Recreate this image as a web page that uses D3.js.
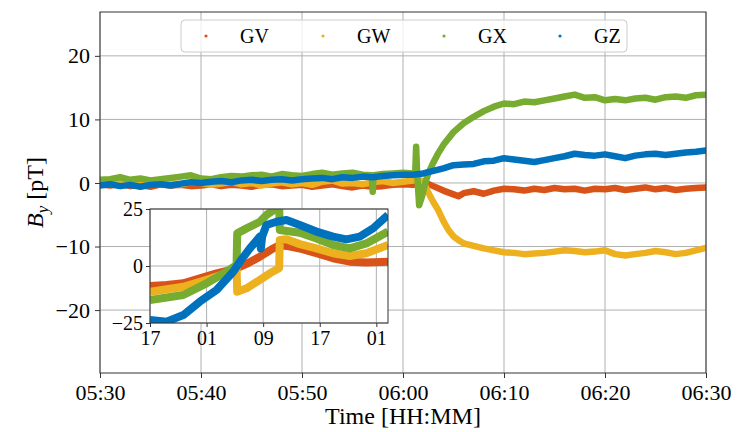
<!DOCTYPE html>
<html><head><meta charset="utf-8">
<script src="https://cdn.jsdelivr.net/npm/d3@7"></script>
<style>body{margin:0;background:#fff} svg{display:block} text{font-family:"Liberation Serif",serif;fill:#000}</style>
</head><body><svg id="c" width="753" height="432"></svg>
<script>
// ---------- data ----------
const seriesNames = ["GV","GW","GX","GZ"];
const seriesColors = ["#D95319","#EDB120","#77AC30","#0072BD"];
const xTickMinutes = [0,10,20,30,40,50,60];
const xTickLabels = ["05:30","05:40","05:50","06:00","06:10","06:20","06:30"];
const yTicks = [-20,-10,0,10,20];
const yTickLabels = ["\u221220","\u221210","0","10","20"];

// main plot: minutes after 05:30
const preT = [0,1,2,3,4,5,6,7,8,9,10,11,12,13,14,15,16,17,18,19,20,21,22,23,24,25,26,27,28,29,30];
const gvPre = [-0.2,-0.4,-0.1,-0.5,-0.3,-0.6,-0.2,-0.4,-0.3,-0.5,-0.4,-0.2,-0.5,-0.3,-0.4,-0.6,-0.3,-0.2,-0.5,-0.4,-0.3,-0.6,-0.4,-0.2,-0.5,-0.7,-0.4,-0.6,-0.5,-0.3,-0.2];
const gwPre = [0.3,0.0,0.4,-0.2,0.1,0.2,-0.3,0.0,-0.2,0.1,0.0,-0.3,-0.1,0.2,-0.2,0.0,-0.4,-0.1,0.1,-0.2,0.0,-0.3,0.2,0.4,-0.1,0.0,-0.2,0.1,0.3,0.0,0.2];
const gxPre = [0.5,0.6,0.9,0.5,0.7,0.4,0.6,0.8,1.0,1.2,0.7,0.6,0.9,1.1,1.0,1.2,1.3,1.0,1.4,1.2,1.1,1.4,1.6,1.3,1.5,1.6,1.3,0.9,1.4,1.5,1.6];
const gzPre = [-0.4,-0.2,-0.5,-0.3,-0.6,-0.3,-0.2,-0.4,-0.1,0.1,0.0,0.2,0.3,0.1,0.4,0.5,0.3,0.5,0.6,0.4,0.6,0.7,0.8,0.6,0.9,0.8,1.0,0.9,1.1,1.2,1.3];

const gvPostT = [31,32,33,34,35,35.5,36,37,38,39,40,41,42,43,44,45,46,47,48,49,50,51,52,53,54,55,56,57,58,59,60];
const gvPostV = [-0.3,0.2,-0.5,-1.2,-1.8,-2.1,-1.6,-1.3,-1.7,-1.2,-0.9,-1.0,-1.2,-0.9,-1.1,-0.8,-1.0,-0.9,-1.2,-0.9,-1.0,-0.8,-1.1,-0.9,-0.7,-1.0,-0.8,-1.1,-0.9,-0.8,-0.7];
const gwPostT = [31,31.5,32,32.5,33,33.5,34,34.5,35,35.5,36,37,38,39,40,41,42,43,44,45,46,47,48,49,50,51,52,53,54,55,56,57,58,59,60];
const gwPostV = [0.4,0.5,0.3,-1.5,-3.0,-4.3,-6.0,-7.4,-8.4,-9.0,-9.5,-9.9,-10.3,-10.6,-10.9,-11.0,-11.2,-11.1,-11.0,-10.8,-10.6,-10.7,-10.9,-10.8,-10.6,-11.2,-11.4,-11.2,-11.0,-10.7,-10.9,-11.2,-11.0,-10.6,-10.2];
const gxSpikeT = [26.9,27.0,27.1];
const gxSpikeV = [1.2,-1.4,1.2];
const gxPostT = [31,31.2,31.3,31.4,31.6,31.9,32.2,32.5,33,33.5,34,35,36,37,38,39,40,41,42,43,44,45,46,47,48,49,50,51,52,53,54,55,56,57,58,59,60];
const gxPostV = [1.5,1.2,5.7,1.5,-3.5,-2.0,0.0,1.5,3.2,4.7,6.0,8.0,9.4,10.4,11.3,12.0,12.5,12.4,12.8,12.7,13.0,13.3,13.6,13.9,13.4,13.5,13.0,13.2,13.0,13.3,13.4,13.1,13.5,13.6,13.4,13.8,13.9];
const gzPostT = [31,32,33,34,35,36,37,38,39,40,41,42,43,44,45,46,47,48,49,50,51,52,53,54,55,56,57,58,59,60];
const gzPostV = [1.3,1.5,1.9,2.3,2.8,2.9,3.0,3.4,3.5,3.9,3.7,3.5,3.3,3.6,3.9,4.2,4.6,4.4,4.3,4.5,4.2,3.9,4.3,4.5,4.6,4.4,4.6,4.8,4.9,5.1];

// inset: hours after 17:00
const insetTickHours = [0,8,16,24,32];
const insetTickLabels = ["17","01","09","17","01"];
const insetYTicks = [-25,0,25];
const insetYTickLabels = ["\u221225","0","25"];
const gvInH = [0,2.35,4.71,7.06,9.41,11.76,12.24,13.65,15.53,17.41,18.35,19.29,21.18,23.53,25.88,28.24,30.59,33.65];
const gvInV = [-8.8,-8.3,-7.6,-5.4,-3.2,-1.5,-1.0,0.9,4.1,7.7,9.2,8.8,7.7,5.6,3.4,1.9,1.5,1.9];
const gwInH = [0,4.71,8.0,10.82,12.24,12.33,13.65,15.53,16.94,18.26,18.35,19.29,21.18,23.53,25.88,28.24,30.59,33.65];
const gwInV = [-11.3,-9.1,-6.1,-3.2,-1.0,-11.3,-9.8,-6.1,-3.2,-1.0,11.4,11.7,9.6,7.7,5.6,4.4,5.6,9.2];
const gxInH = [0,4.71,8.0,10.82,12.24,12.33,13.65,15.53,16.47,17.88,18.26,18.35,21.18,23.53,25.88,28.24,30.59,33.65];
const gxInV = [-14.9,-12.7,-7.6,-2.5,0.4,14.3,16.5,19.4,22.4,25.3,26.8,15.8,14.6,12.1,9.2,7.7,9.9,15.1];
const gzInH = [0,2.35,4.71,7.06,9.41,11.76,12.71,14.12,15.53,15.67,15.86,16.47,17.88,19.29,21.18,23.53,25.88,27.76,29.65,31.53,33.65];
const gzInV = [-23.7,-24.4,-21.5,-15.6,-10.5,-2.5,1.9,7.7,12.9,7.7,12.9,18.0,19.4,20.2,18.0,15.1,12.9,11.7,12.9,16.5,22.4];

// ---------- build ----------
const zip = (t, v) => t.map((d, i) => [d, v[i]]);
const mainSeries = [
  zip(preT, gvPre).concat(zip(gvPostT, gvPostV)),
  zip(preT, gwPre).concat(zip(gwPostT, gwPostV)),
  zip(preT.slice(0,27), gxPre.slice(0,27)).concat(zip(gxSpikeT, gxSpikeV), zip(preT.slice(28), gxPre.slice(28)), zip(gxPostT, gxPostV)),
  zip(preT, gzPre).concat(zip(gzPostT, gzPostV))
];
const insetSeries = [zip(gvInH, gvInV), zip(gwInH, gwInV), zip(gxInH, gxInV), zip(gzInH, gzInV)];

const svg = d3.select("#c");
const L = 100, R = 706, T = 12, B = 373;
const x = d3.scaleLinear().domain([0, 60]).range([L, R]);
const y = d3.scaleLinear().domain([-29.9, 26.9]).range([B, T]);
const gridCol = "#b0b0b0";

svg.append("defs").append("clipPath").attr("id","mclip").append("rect")
  .attr("x",L).attr("y",T).attr("width",R-L).attr("height",B-T);

// grid
const grid = svg.append("g");
grid.selectAll(".gx").data(xTickMinutes).join("line")
  .attr("x1", d=>x(d)).attr("x2", d=>x(d)).attr("y1", T).attr("y2", B)
  .attr("stroke", gridCol).attr("stroke-width", 1);
grid.selectAll(".gy").data(yTicks).join("line")
  .attr("x1", L).attr("x2", R).attr("y1", d=>y(d)).attr("y2", d=>y(d))
  .attr("stroke", gridCol).attr("stroke-width", 1);

// series
const line = d3.line().x(d=>x(d[0])).y(d=>y(d[1]));
const mg = svg.append("g").attr("clip-path","url(#mclip)");
mainSeries.forEach((s,i)=>{
  mg.append("path").attr("d", line(s)).attr("fill","none")
    .attr("stroke", seriesColors[i]).attr("stroke-width", 6.5)
    .attr("stroke-linejoin","round").attr("stroke-linecap","round");
});

// axes
const xAxis = d3.axisBottom(x).tickValues(xTickMinutes).tickFormat((d,i)=>xTickLabels[i]).tickSize(5).tickPadding(6);
const yAxis = d3.axisLeft(y).tickValues(yTicks).tickFormat((d,i)=>yTickLabels[i]).tickSize(5).tickPadding(5);
const gxA = svg.append("g").attr("transform",`translate(0,${B})`).call(xAxis);
const gyA = svg.append("g").attr("transform",`translate(${L},0)`).call(yAxis);
[gxA, gyA].forEach(g=>{
  g.select(".domain").remove();
  g.selectAll("line").attr("stroke","#333");
  g.selectAll("text").style("font-size","22px").style("font-family","'Liberation Serif',serif");
});
svg.append("rect").attr("x",L).attr("y",T).attr("width",R-L).attr("height",B-T)
  .attr("fill","none").attr("stroke","#333").attr("stroke-width",1);

// axis labels
svg.append("text").attr("x", (L+R)/2).attr("y", 424).attr("text-anchor","middle")
  .style("font-size","24px").text("Time [HH:MM]");
const yl = svg.append("text").attr("transform",`translate(43,${(T+B)/2}) rotate(-90)`)
  .attr("text-anchor","middle").style("font-size","24px");
yl.append("tspan").style("font-style","italic").text("B");
yl.append("tspan").style("font-style","italic").style("font-size","17px").attr("dy",5).text("y");
yl.append("tspan").attr("dy",-5).text(" [pT]");

// legend
const lg = svg.append("g");
lg.append("rect").attr("x",181).attr("y",20).attr("width",446).attr("height",32).attr("rx",4)
  .attr("fill","#fff").attr("fill-opacity",0.8).attr("stroke","#cccccc").attr("stroke-width",1);
const legX = [206,323,444,560];
const legTX = [240,357,478,594];
seriesNames.forEach((n,i)=>{
  lg.append("circle").attr("cx",legX[i]).attr("cy",36).attr("r",1.6).attr("fill",seriesColors[i]);
  lg.append("text").attr("x",legTX[i]).attr("y",43).style("font-size","20px").text(n);
});

// inset
const iL = 150, iR = 388, iT = 209, iB = 323;
const ix = d3.scaleLinear().domain([0, 33.65]).range([iL, iR]);
const iy = d3.scaleLinear().domain([-25, 25]).range([iB, iT]);
svg.append("rect").attr("x",iL).attr("y",iT).attr("width",iR-iL).attr("height",iB-iT).attr("fill","#fff");
svg.select("defs").append("clipPath").attr("id","iclip").append("rect")
  .attr("x",iL).attr("y",iT).attr("width",iR-iL).attr("height",iB-iT);
const ig = svg.append("g");
ig.selectAll(".igx").data(insetTickHours).join("line")
  .attr("x1", d=>ix(d)).attr("x2", d=>ix(d)).attr("y1", iT).attr("y2", iB)
  .attr("stroke", gridCol).attr("stroke-width", 1);
ig.selectAll(".igy").data(insetYTicks).join("line")
  .attr("x1", iL).attr("x2", iR).attr("y1", d=>iy(d)).attr("y2", d=>iy(d))
  .attr("stroke", gridCol).attr("stroke-width", 1);
const iline = d3.line().x(d=>ix(d[0])).y(d=>iy(d[1]));
const isg = svg.append("g").attr("clip-path","url(#iclip)");
insetSeries.forEach((s,i)=>{
  isg.append("path").attr("d", iline(s)).attr("fill","none")
    .attr("stroke", seriesColors[i]).attr("stroke-width", 8)
    .attr("stroke-linejoin","round").attr("stroke-linecap","butt");
});
const ixA = d3.axisBottom(ix).tickValues(insetTickHours).tickFormat((d,i)=>insetTickLabels[i]).tickSize(4).tickPadding(4);
const iyA = d3.axisLeft(iy).tickValues(insetYTicks).tickFormat((d,i)=>insetYTickLabels[i]).tickSize(4).tickPadding(3);
const gix = svg.append("g").attr("transform",`translate(0,${iB})`).call(ixA);
const giy = svg.append("g").attr("transform",`translate(${iL},0)`).call(iyA);
[gix, giy].forEach(g=>{
  g.select(".domain").remove();
  g.selectAll("line").attr("stroke","#333");
  g.selectAll("text").style("font-size","20px").style("font-family","'Liberation Serif',serif");
});
svg.append("rect").attr("x",iL).attr("y",iT).attr("width",iR-iL).attr("height",iB-iT)
  .attr("fill","none").attr("stroke","#333").attr("stroke-width",1);
</script></body></html>
